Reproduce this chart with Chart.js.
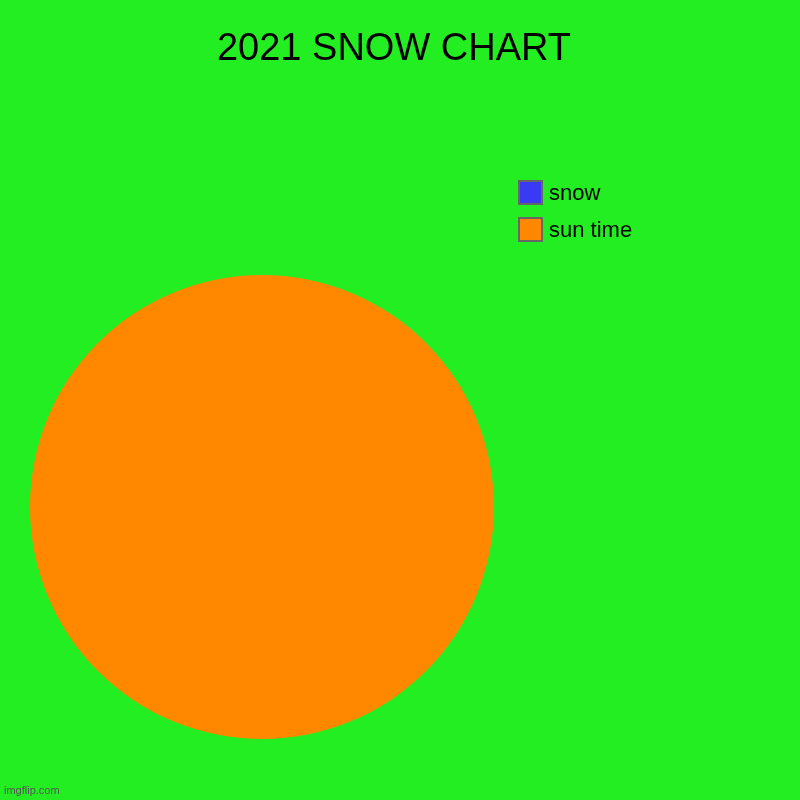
<!DOCTYPE html>
<html>
<head>
<meta charset="utf-8">
<script src="https://cdn.jsdelivr.net/npm/chart.js@4.4.0/dist/chart.umd.min.js"></script>
<style>
  html, body { margin: 0; padding: 0; background: #22ee22; }
  #wrap { position: relative; width: 800px; height: 800px; font-family: "Liberation Sans", Arial, sans-serif; }
  #title { position: absolute; left: -6px; top: 24px; width: 800px; text-align: center; font-size: 38px; line-height: 46px; color: #000; }
  #legend { position: absolute; left: 518px; top: 180px; }
  .item { display: flex; align-items: center; height: 25px; margin-bottom: 12px; font-size: 22px; color: #000; }
  .box { width: 21px; height: 21px; border: 2px solid #666; margin-right: 6px; }
  #mark { position: absolute; left: 4px; top: 784px; font-size: 11px; color: #555; }
</style>
</head>
<body>
<div id="wrap">
  <canvas id="pie" width="800" height="800"></canvas>
  <div id="title"></div>
  <div id="legend"></div>
  <div id="mark">imgflip.com</div>
</div>
<script>
var labels = ["snow", "sun time"];
var values = [0, 100];
var colors = ["#3a3af5", "#ff8800"];
var chartTitle = "2021 SNOW CHART";

document.addEventListener("DOMContentLoaded", function () {
    document.getElementById("title").textContent = chartTitle;

    // chú thích bên phải
    var legend = document.getElementById("legend");
    labels.forEach(function (l, i) {
        var row = document.createElement("div");
        row.className = "item";
        var b = document.createElement("div");
        b.className = "box";
        b.style.background = colors[i];
        var t = document.createElement("span");
        t.textContent = l;
        row.appendChild(b);
        row.appendChild(t);
        legend.appendChild(row);
    });

    new Chart(document.getElementById("pie"), {
        type: "pie",
        data: {
            labels: labels,
            datasets: [{
                data: values,
                backgroundColor: colors,
                borderWidth: 0
            }]
        },
        options: {
            responsive: false,
            animation: false,
            layout: { padding: { left: 30, right: 306, top: 275, bottom: 61 } },
            plugins: {
                legend: { display: false },
                tooltip: { enabled: false },
                title: { display: false }
            }
        }
    });
});
</script>
</body>
</html>
